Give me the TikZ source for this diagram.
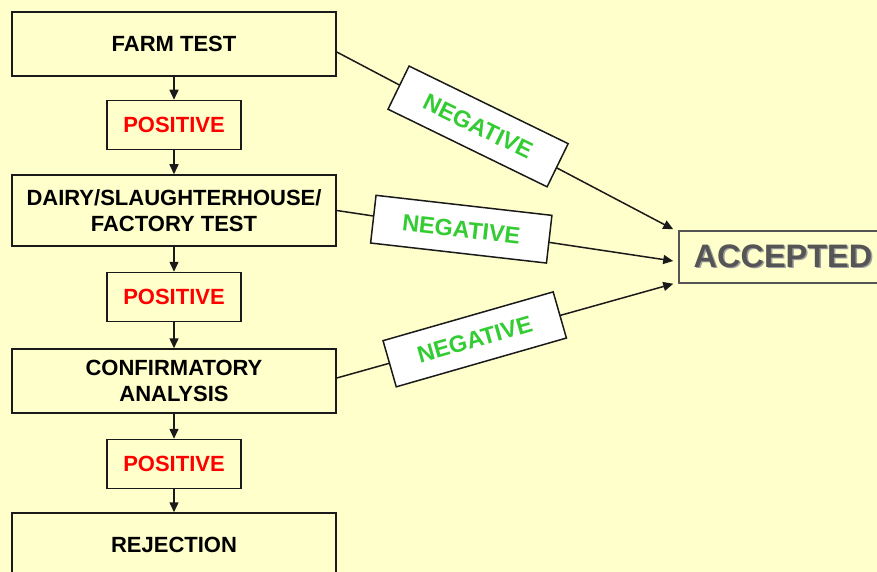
\documentclass[tikz,border=0pt]{standalone}
\usepackage{fontspec}
\setmainfont{Liberation Sans}
\usetikzlibrary{arrows.meta}

\definecolor{bgYellow}{HTML}{FFFFCC}
\definecolor{boxLine}{HTML}{1A1A1A}
\definecolor{posRed}{HTML}{FF0000}
\definecolor{negGreen}{HTML}{33CC33}
\definecolor{accGray}{HTML}{555555}
\definecolor{accShade}{HTML}{A0A0A0}

\tikzset{
  stageBox/.style={draw=boxLine, line width=1.5pt, fill=bgYellow,
    minimum width=324pt, minimum height=64pt, align=center,
    font=\bfseries\fontsize{22}{26}\selectfont},
  posBox/.style={stageBox, minimum width=134pt, minimum height=49pt,
    text=posRed},
  negBox/.style={draw=boxLine, line width=1.5pt, fill=white,
    minimum width=177pt, minimum height=48pt, text=negGreen,
    font=\bfseries\fontsize{23.5}{28}\selectfont},
  accBox/.style={draw=accGray, line width=1.5pt, fill=bgYellow,
    minimum width=208pt, minimum height=52pt, text=accGray,
    font=\bfseries\fontsize{32.5}{36}\selectfont},
  flowArrow/.style={line width=1.5pt, draw=boxLine,
    -{Triangle[length=10pt,width=9pt]}},
}

\begin{document}
\begin{tikzpicture}[x=1pt,y=-1pt]
\fill[bgYellow] (0,0) rectangle (877,572);
\clip (0,0) rectangle (877,572);

% test stages down the left side
\node[stageBox] (farm) at (174,44) {FARM TEST};
\node[posBox] (pos1) at (174,125) {POSITIVE};
\node[stageBox, minimum height=71pt] (dairy) at (174,210.5)
  {DAIRY/SLAUGHTERHOUSE/\\FACTORY TEST};
\node[posBox] (pos2) at (174,297) {POSITIVE};
\node[stageBox] (conf) at (174,381) {CONFIRMATORY\\ANALYSIS};
\node[posBox] (pos3) at (174,464) {POSITIVE};
\node[stageBox] (reject) at (174,545) {REJECTION};

% outcome on the right
\node[accBox] (acc) at (783,257)
  {\makebox[0pt][l]{\hspace{1.5pt}\raisebox{-1.5pt}{\color{accShade}ACCEPTED}}ACCEPTED};

% positive path
\draw[flowArrow] (farm.south) -- (pos1.north);
\draw[flowArrow] (pos1.south) -- (dairy.north);
\draw[flowArrow] (dairy.south) -- (pos2.north);
\draw[flowArrow] (pos2.south) -- (conf.north);
\draw[flowArrow] (conf.south) -- (pos3.north);
\draw[flowArrow] (pos3.south) -- (reject.north);

% negative path
\draw[flowArrow] ([yshift=-8pt]farm.east) --
  node[negBox, pos=0.42, rotate=-26] (neg1) {NEGATIVE}
  ([xshift=-5pt,yshift=1pt]acc.north west);
\draw[flowArrow] (dairy.east) --
  node[negBox, pos=0.37, rotate=-6.5] (neg2) {NEGATIVE}
  ([xshift=-5pt,yshift=-4pt]acc.west);
\draw[flowArrow] ([yshift=3pt]conf.east) --
  node[negBox, pos=0.41, rotate=16] (neg3) {NEGATIVE}
  ([xshift=-5pt]acc.south west);
\end{tikzpicture}
\end{document}
